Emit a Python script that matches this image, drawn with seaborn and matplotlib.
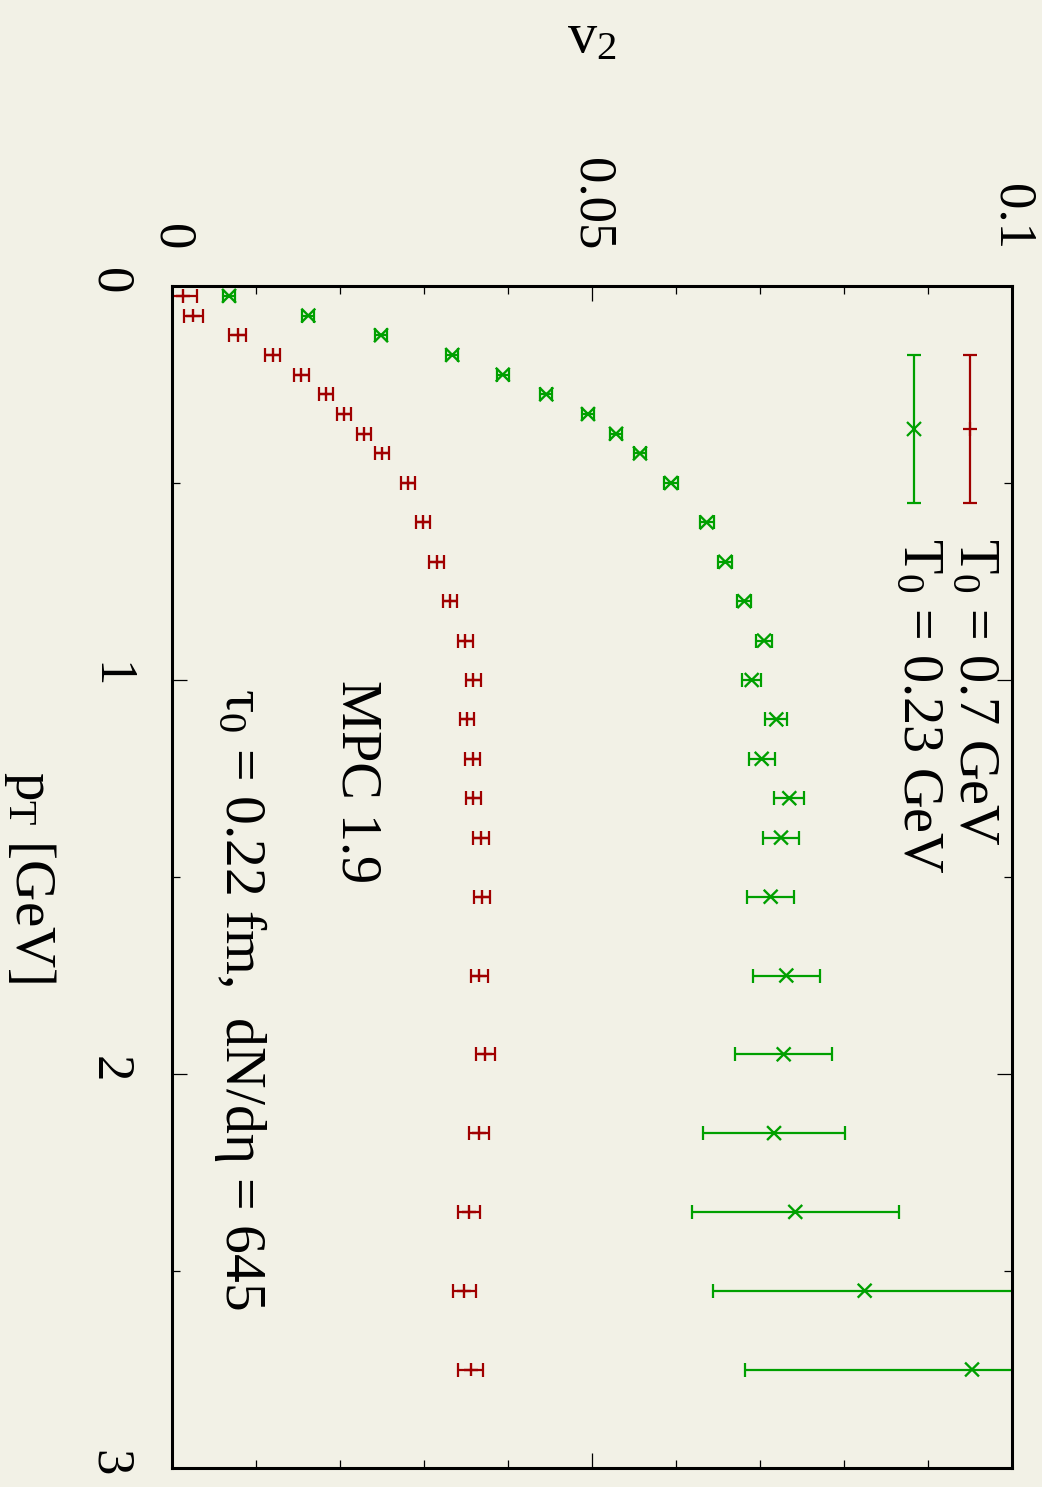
import numpy as np
import pandas as pd
import matplotlib
matplotlib.use("Agg")
import matplotlib.pyplot as plt
from matplotlib.ticker import MultipleLocator
import seaborn as sns

# ---------------- data ----------------
pt = [0.025, 0.075, 0.125, 0.175, 0.225, 0.275, 0.325, 0.375, 0.425,
      0.5, 0.6, 0.7, 0.8, 0.9, 1.0, 1.1, 1.2, 1.3, 1.4,
      1.55, 1.75, 1.95, 2.15, 2.35, 2.55, 2.75]

v2_T07 = [0.00127, 0.00254, 0.00782, 0.01198, 0.0154, 0.01837, 0.02048, 0.02282, 0.02504,
          0.02806, 0.02992, 0.03149, 0.03313, 0.03494, 0.03589, 0.03508, 0.03579, 0.03589, 0.03679,
          0.03696, 0.03659, 0.0373, 0.03657, 0.03538, 0.0348, 0.03556]
err_T07 = [0.0017, 0.0011, 0.0010, 0.00087, 0.00085, 0.00085, 0.00085, 0.00085, 0.00085,
           0.00085, 0.00085, 0.00085, 0.00085, 0.00085, 0.00085, 0.00085, 0.00087, 0.00088, 0.0009,
           0.00095, 0.00103, 0.0011, 0.0012, 0.0013, 0.0014, 0.0015]

v2_T023 = [0.00679, 0.01623, 0.02488, 0.03337, 0.03937, 0.04456, 0.04952, 0.05286, 0.05571,
           0.0594, 0.06365, 0.06587, 0.06813, 0.07048, 0.06901, 0.07194, 0.0702, 0.07349, 0.0725,
           0.07127, 0.07313, 0.07282, 0.07167, 0.0742, 0.08246, 0.09524]
err_T023 = [0.0007, 0.0007, 0.0007, 0.0007, 0.0007, 0.0007, 0.0007, 0.0007, 0.0007,
            0.0008, 0.00085, 0.00085, 0.00085, 0.00093, 0.0011, 0.0013, 0.00155, 0.0018, 0.0022,
            0.0028, 0.0040, 0.0058, 0.0084, 0.0123, 0.0180, 0.0270]

series_names = ["T07", "T023"]
series_labels = ["T$_0$ = 0.7 GeV", "T$_0$ = 0.23 GeV"]
series_colors = ["#a00000", "#00a000"]
series_markers = ["+", "x"]

v2_ticks = [0, 0.05, 0.1]
v2_ticklabels = ["0", "0.05", "0.1"]
pt_ticks = [0, 1, 2, 3]
pt_ticklabels = ["0", "1", "2", "3"]

annot_main = "MPC 1.9"
annot_sub = "\u03c4$_0$ = 0.22 fm,  dN/d\u03b7 = 645"

# ---------------- style ----------------
sns.set_theme(style="ticks")
plt.rcParams["font.family"] = ["Liberation Serif", "DejaVu Serif"]
plt.rcParams["mathtext.fontset"] = "custom"
plt.rcParams["mathtext.rm"] = "Liberation Serif"
plt.rcParams["mathtext.it"] = "Liberation Serif:italic"
plt.rcParams["mathtext.bf"] = "Liberation Serif:bold"
for key in ["text.color", "axes.labelcolor", "xtick.color", "ytick.color",
            "xtick.labelcolor", "ytick.labelcolor", "axes.edgecolor"]:
    plt.rcParams[key] = "black"

bg = "#f2f1e6"
W, H = 1042, 1487
fig = plt.figure(figsize=(W / 100, H / 100), dpi=100, facecolor=bg)
ax = fig.add_axes([172 / W, 1 - 1468 / H, 840 / W, 1182 / H])
ax.set_facecolor(bg)

df = pd.DataFrame({
    "pT": pt * 2,
    "v2": v2_T07 + v2_T023,
    "err": err_T07 + err_T023,
    "series": [series_names[0]] * len(pt) + [series_names[1]] * len(pt),
})

sns.scatterplot(data=df, x="v2", y="pT", hue="series", style="series",
                palette=dict(zip(series_names, series_colors)),
                markers=dict(zip(series_names, series_markers)),
                s=100, linewidth=1.7, legend=False, ax=ax, zorder=3)

for name, col in zip(series_names, series_colors):
    sub = df[df["series"] == name]
    ax.errorbar(sub["v2"], sub["pT"], xerr=sub["err"], fmt="none",
                ecolor=col, elinewidth=1.6, capsize=4.8, capthick=1.6, zorder=2)

# limits / ticks
ax.set_xlim(0, 0.1)
ax.set_ylim(3, 0)
ax.set_xticks(v2_ticks)
ax.set_xticklabels(v2_ticklabels)
ax.xaxis.set_minor_locator(MultipleLocator(0.01))
ax.set_yticks(pt_ticks)
ax.set_yticklabels(pt_ticklabels)
ax.yaxis.set_minor_locator(MultipleLocator(0.5))

ax.tick_params(axis="x", which="both", direction="in", top=True, bottom=True,
               labeltop=True, labelbottom=False, labelrotation=-90,
               labelsize=38, pad=26, color="black", labelcolor="black")
ax.tick_params(axis="y", which="both", direction="in", left=True, right=True,
               labelleft=True, labelright=False, labelrotation=-90,
               labelsize=38, pad=28, color="black", labelcolor="black")
ax.tick_params(which="major", length=11, width=0.9)
ax.tick_params(which="minor", length=5.5, width=0.9)
for sp in ax.spines.values():
    sp.set_linewidth(2.2)
    sp.set_color("black")

ax.xaxis.set_label_position("top")
ax.set_xlabel("v$_2$", fontsize=42, labelpad=76, rotation=0, color="black")
ax.set_ylabel("p$_\\mathrm{T}$ [GeV]", fontsize=41, labelpad=40, rotation=-90,
              va="center", color="black")

# annotations
ax.text(0.022, 1.0, annot_main, rotation=-90, fontsize=40.5, ha="center", va="top")
ax.text(0.0082, 1.02, annot_sub, rotation=-90, fontsize=41.5, ha="center", va="top")

# manual rotated key
key_x = [0.95, 0.883]
key_y = 0.879
key_half = 0.063
for lx, lab, col, mk in zip(key_x, series_labels, series_colors, series_markers):
    ax.errorbar([lx], [key_y], yerr=[key_half], fmt=mk, color=col, ecolor=col,
                markersize=10, mew=1.6, elinewidth=1.6, capsize=4.8, capthick=1.6,
                transform=ax.transAxes, clip_on=False)
    ax.text(lx + 0.005, 0.787, lab, rotation=-90, fontsize=40.5, ha="center", va="top",
            transform=ax.transAxes)

fig.savefig("out.png", dpi=100, facecolor=bg)
